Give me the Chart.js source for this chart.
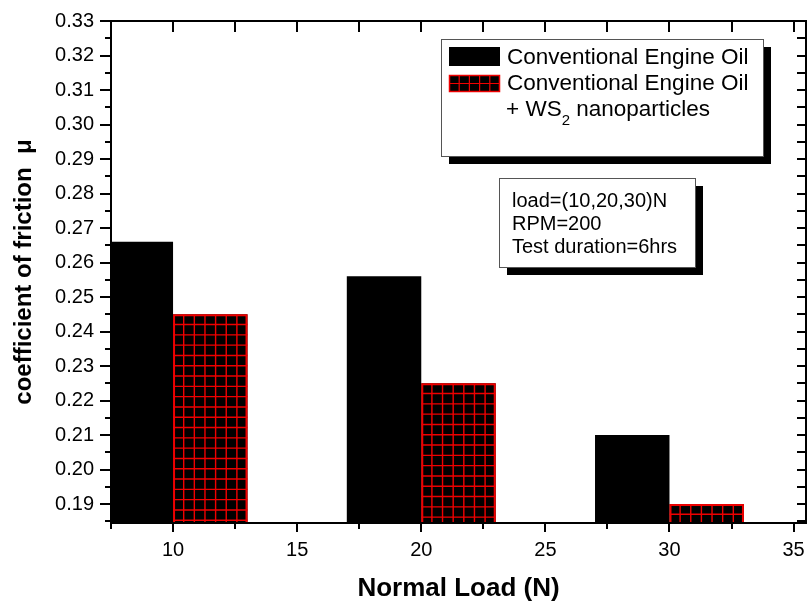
<!DOCTYPE html>
<html>
<head>
<meta charset="utf-8">
<script src="https://cdn.jsdelivr.net/npm/chart.js@4.4.1/dist/chart.umd.min.js"></script>
<style>
  html, body { margin: 0; padding: 0; background: #fff; }
  #wrap { width: 810px; height: 606px; }
</style>
</head>
<body>
<div id="wrap"><canvas id="chart" width="810" height="606"></canvas></div>
<script>
// Data
const loads = [10, 20, 30];
const conventionalOil = [0.266, 0.256, 0.210];
const ws2Oil = [0.245, 0.225, 0.190];

const xTickValues = [10, 15, 20, 25, 30, 35];
const yTickValues = [0.19, 0.20, 0.21, 0.22, 0.23, 0.24, 0.25, 0.26,
                     0.27, 0.28, 0.29, 0.30, 0.31, 0.32, 0.33];

const xRange = [7.5, 35.5];
const yRange = [0.1845, 0.33];

const legendLabels = ['Conventional Engine Oil', 'Conventional Engine Oil'];
const noteLines = ['load=(10,20,30)N', 'RPM=200', 'Test duration=6hrs'];

const FONT = "'Liberation Sans', Arial, sans-serif";
const RED = '#ee0000';

// minor ticks sit half way between the labelled ones
function minorValues(values, lo, hi) {
  const step = values[1] - values[0];
  const out = [];
  for (let v = values[0] - step / 2; v <= hi + 1e-9; v += step) {
    if (v >= lo - 1e-9) out.push(v);
  }
  return out;
}

function shadowBox(ctx, x, y, w, h) {
  ctx.fillStyle = '#000';
  ctx.fillRect(x + 8, y + 8, w, h);
  ctx.fillStyle = '#fff';
  ctx.fillRect(x, y, w, h);
  ctx.strokeStyle = '#555';
  ctx.lineWidth = 1;
  ctx.strokeRect(x + 0.5, y + 0.5, w, h);
}

function gridFill(ctx, left, top, w, h, dx, dy, lw) {
  ctx.strokeStyle = RED;
  ctx.lineWidth = lw;
  ctx.beginPath();
  for (let x = left + dx; x < left + w - 1; x += dx) {
    ctx.moveTo(x, top);
    ctx.lineTo(x, top + h);
  }
  for (let y = top + dy; y < top + h - 1; y += dy) {
    ctx.moveTo(left, y);
    ctx.lineTo(left + w, y);
  }
  ctx.stroke();
}

const decorations = {
  id: 'decorations',
  afterDatasetsDraw(chart) {
    const { ctx, chartArea: a } = chart;
    const meta = chart.getDatasetMeta(1);
    ctx.save();
    ctx.beginPath();
    ctx.rect(a.left, a.top, a.right - a.left, a.bottom - a.top);
    ctx.clip();
    meta.data.forEach(bar => {
      const left = bar.x - bar.width / 2;
      const h = Math.min(bar.base, a.bottom) - bar.y;
      gridFill(ctx, left, bar.y, bar.width, h, bar.width / 7, 10.3, 1.4);
      ctx.strokeStyle = RED;
      ctx.lineWidth = 2;
      ctx.strokeRect(left + 1, bar.y + 1, bar.width - 2, h + 4);
    });
    ctx.restore();
  },
  afterDraw(chart) {
    const { ctx, chartArea: a, scales } = chart;
    const xs = scales.x, ys = scales.y;
    ctx.save();

    // frame
    ctx.strokeStyle = '#000';
    ctx.lineWidth = 2;
    ctx.strokeRect(a.left, a.top, a.right - a.left, a.bottom - a.top);

    ctx.lineWidth = 2;
    ctx.beginPath();
    xTickValues.forEach(v => {
      const px = Math.round(xs.getPixelForValue(v));
      if (px < a.left - 1 || px > a.right + 1) return;
      ctx.moveTo(px, a.bottom); ctx.lineTo(px, a.bottom + 9);
      ctx.moveTo(px, a.top); ctx.lineTo(px, a.top + 11);
    });
    minorValues(xTickValues, xRange[0], xRange[1]).forEach(v => {
      const px = Math.round(xs.getPixelForValue(v));
      ctx.moveTo(px, a.bottom); ctx.lineTo(px, a.bottom + 6);
      ctx.moveTo(px, a.top); ctx.lineTo(px, a.top + 11);
    });
    yTickValues.forEach(v => {
      const py = Math.round(ys.getPixelForValue(v));
      ctx.moveTo(a.left, py); ctx.lineTo(a.left - 11, py);
      ctx.moveTo(a.right, py); ctx.lineTo(a.right - 9, py);
    });
    minorValues(yTickValues, yRange[0], yRange[1]).forEach(v => {
      const py = Math.round(ys.getPixelForValue(v));
      ctx.moveTo(a.left, py); ctx.lineTo(a.left - 6, py);
      ctx.moveTo(a.right, py); ctx.lineTo(a.right - 9, py);
    });
    ctx.stroke();

    // legend
    shadowBox(ctx, 441, 39, 322, 117);
    ctx.fillStyle = '#000';
    ctx.fillRect(449, 47, 51, 19);
    ctx.fillRect(449, 75, 51, 17);
    gridFill(ctx, 449, 75, 51, 17, 10.2, 8.5, 1.2);
    ctx.strokeStyle = RED;
    ctx.lineWidth = 1.5;
    ctx.strokeRect(449.5, 75.5, 50, 16);

    ctx.fillStyle = '#000';
    ctx.textBaseline = 'alphabetic';
    ctx.textAlign = 'left';
    ctx.font = '22.5px ' + FONT;
    ctx.fillText(legendLabels[0], 507, 64);
    ctx.fillText(legendLabels[1], 507, 90);
    let tx = 506;
    ctx.fillText('+ WS', tx, 116);
    tx += ctx.measureText('+ WS').width;
    ctx.font = '15px ' + FONT;
    ctx.fillText('2', tx, 125);
    tx += ctx.measureText('2').width;
    ctx.font = '22.5px ' + FONT;
    ctx.fillText(' nanoparticles', tx, 116);

    // test conditions note
    shadowBox(ctx, 499, 178, 196, 89);
    ctx.fillStyle = '#000';
    ctx.font = '20px ' + FONT;
    noteLines.forEach((t, i) => ctx.fillText(t, 512, 207 + i * 23));

    ctx.restore();
  }
};

new Chart(document.getElementById('chart'), {
  type: 'bar',
  data: {
    labels: loads,
    datasets: [
      {
        label: 'Conventional Engine Oil',
        data: loads.map((x, i) => ({ x: x, y: conventionalOil[i] })),
        backgroundColor: '#000',
        borderWidth: 0
      },
      {
        label: 'Conventional Engine Oil + WS2 nanoparticles',
        data: loads.map((x, i) => ({ x: x, y: ws2Oil[i] })),
        backgroundColor: '#000',
        borderWidth: 0
      }
    ]
  },
  options: {
    responsive: false,
    animation: false,
    devicePixelRatio: 1,
    // ruler uses the 5-unit tick spacing, so 1.2 gives a 3-unit bar each
    categoryPercentage: 1.2,
    barPercentage: 1,
    layout: { padding: { top: 21, right: 4, left: 0, bottom: 0 } },
    plugins: {
      legend: { display: false },
      tooltip: { enabled: false }
    },
    scales: {
      x: {
        type: 'linear',
        min: xRange[0],
        max: xRange[1],
        offset: false,
        grid: { display: false, drawTicks: false },
        border: { display: false },
        afterBuildTicks: s => { s.ticks = xTickValues.map(v => ({ value: v })); },
        afterFit: s => { s.height = 83; s.paddingLeft = 0; s.paddingRight = 0; },
        ticks: {
          autoSkip: false,
          maxRotation: 0,
          padding: 15,
          color: '#000',
          font: { family: FONT, size: 20 },
          callback: v => String(v)
        },
        title: {
          display: true,
          text: 'Normal Load (N)',
          color: '#000',
          font: { family: FONT, size: 26, weight: 'bold' },
          padding: { top: 0, bottom: 2 }
        }
      },
      y: {
        min: yRange[0],
        max: yRange[1],
        grid: { display: false, drawTicks: false },
        border: { display: false },
        afterBuildTicks: s => { s.ticks = yTickValues.map(v => ({ value: v })); },
        afterFit: s => { s.width = 111; s.paddingTop = 0; s.paddingBottom = 0; },
        ticks: {
          autoSkip: false,
          padding: 17,
          color: '#000',
          font: { family: FONT, size: 20 },
          callback: v => Number(v).toFixed(2)
        },
        title: {
          display: true,
          text: 'coefficient of friction  \u03bc',
          color: '#000',
          font: { family: FONT, size: 24, weight: 'bold' },
          padding: { top: 10, bottom: 0 }
        }
      }
    }
  },
  plugins: [decorations]
});
</script>
</body>
</html>
